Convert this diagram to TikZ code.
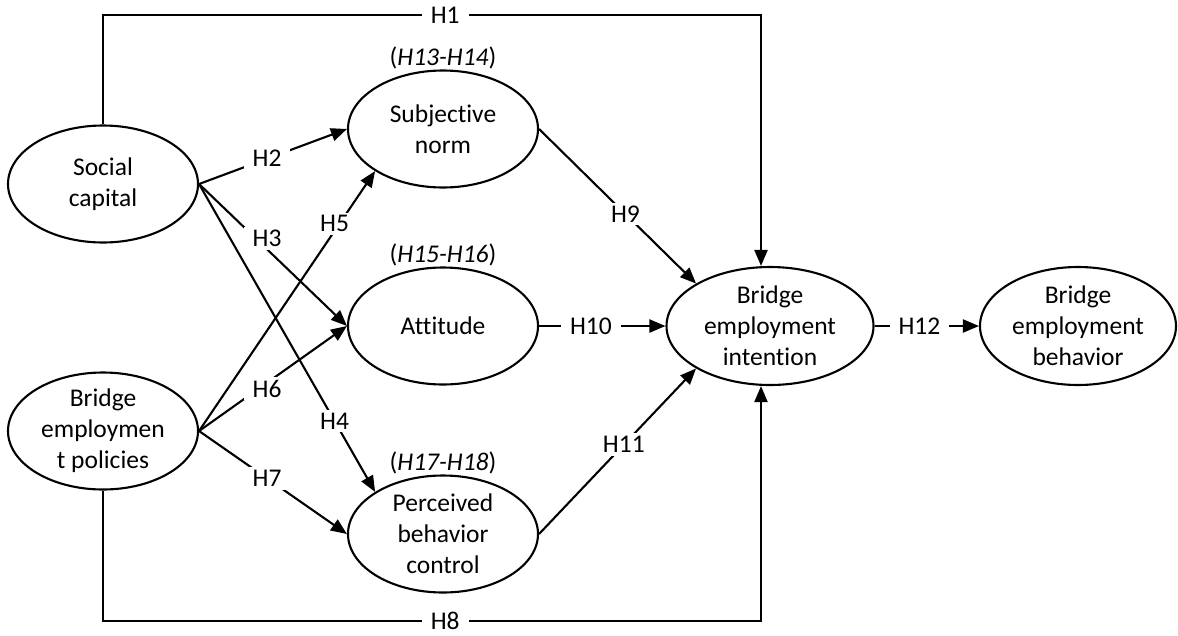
\documentclass[tikz,border=0pt]{standalone}
\usepackage{fontspec}
\setmainfont{Carlito}[Ligatures=CommonOff]
\usetikzlibrary{arrows.meta, positioning, shapes.geometric}

\begin{document}
\begin{tikzpicture}[x=1pt, y=-1pt,
    every node/.style={font=\fontsize{25.5}{31}\selectfont},
    construct/.style={ellipse, draw, line width=2.1pt, minimum width=190pt, minimum height=117pt, inner sep=-12pt, align=center},
    hyp/.style={fill=white, inner xsep=9pt, inner ysep=3pt},
    group/.style={inner sep=0pt},
    link/.style={-{Triangle[length=16pt, width=13pt]}, line width=2.1pt}
]
\useasboundingbox (0,0) rectangle (1178,635);

% Constructs
\node[construct] (sc)  at (103,184) {Social\\capital};
\node[construct] (bep) at (103,431) {Bridge\\employmen\\t policies};
\node[construct] (sn)  at (443,129) {Subjective\\norm};
\node[construct] (att) at (443,326) {Attitude};
\node[construct] (pbc) at (443,534) {Perceived\\behavior\\control};
\node[construct, minimum width=207pt, minimum height=118pt] (bei) at (770,326) {Bridge\\employment\\intention};
\node[construct, minimum width=196pt, minimum height=118pt] (beb) at (1078,326) {Bridge\\employment\\behavior};

% Moderation groups
\node[group, above=0pt of sn]  (msn)  {(\textit{H13-H14})};
\node[group, above=0pt of att] (matt) {(\textit{H15-H16})};
\node[group, above=0pt of pbc] (mpbc) {(\textit{H17-H18})};

% Direct paths
\coordinate (top) at (761,15);
\coordinate (bottom) at (761,621);
\draw[link] (sc.north) |- node[hyp, pos=0.76] (h1) {H1} (top) -- (top |- bei.north);
\draw[link] (bep.south) |- node[hyp, pos=0.76, inner ysep=1pt] (h8) {H8} (bottom) -- (bottom |- bei.south);

% Paths to TPB constructs
\draw[link] (sc.east) -- node[hyp, pos=0.46] (h2) {H2} (sn.west);
\draw[link] (sc.east) -- node[hyp, pos=0.46, yshift=11pt] (h3) {H3} (att.west);
\draw[link] (sc.east) -- node[hyp, pos=0.77] (h4) {H4} (pbc.north west);
\draw[link] (bep.east) -- node[hyp, pos=0.77, yshift=7pt] (h5) {H5} (sn.south west);
\draw[link] (bep.east) -- node[hyp, pos=0.46, yshift=-6pt] (h6) {H6} (att.west);
\draw[link] (bep.east) -- node[hyp, pos=0.46] (h7) {H7} (pbc.west);

% Paths to intention and behavior
\draw[link] (sn.east) -- node[hyp, pos=0.55] (h9) {H9} (bei.north west);
\draw[link] (att.east) -- node[hyp, pos=0.41] (h10) {H10} (bei.west);
\draw[link] (pbc.east) -- node[hyp, pos=0.54] (h11) {H11} (bei.south west);
\draw[link] (bei.east) -- node[hyp, pos=0.43] (h12) {H12} (beb.west);
\end{tikzpicture}
\end{document}
